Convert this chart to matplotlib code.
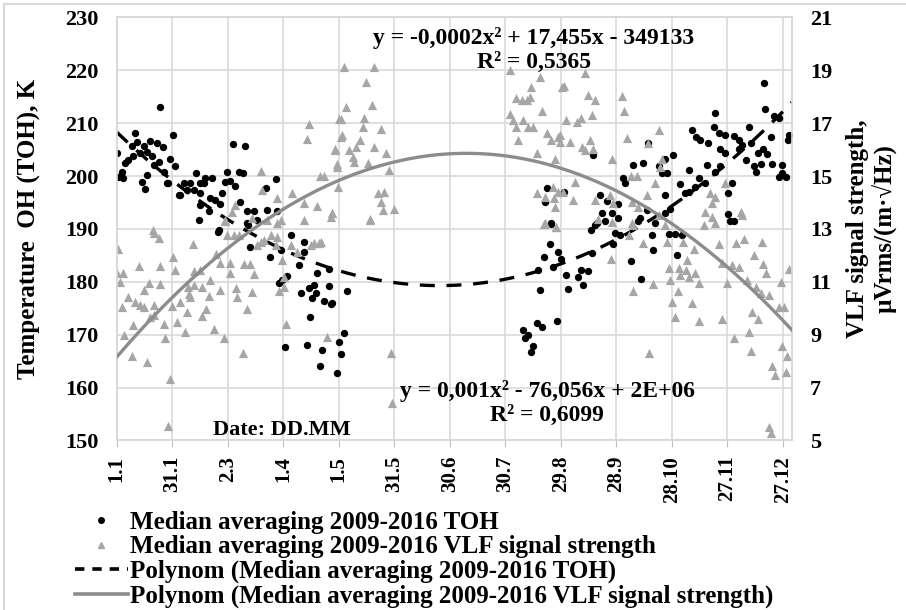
import numpy as np
import matplotlib.pyplot as plt
from matplotlib.lines import Line2D

# TOH medians, day of year -> K
toh_day = [1, 1.9, 3.7, 4.6, 5.5, 7.3, 9.1, 10, 10.9, 11.8, 13.7, 14.6, 15.5, 16.4, 17.3, 17.3,
           19.1, 20, 20.9, 22.7, 23.6, 24.5, 26, 26.3, 28.1, 29, 29.9, 31.7, 32.6, 34.5, 35.4,
           37.2, 39, 40.8, 42.6, 44, 45.3, 46.2, 46.2, 46.2, 48, 48.9, 50.7, 51.6, 52.5, 54.3,
           55.6, 56.2, 57.1, 58, 59.8, 60.7, 62.5, 63.9, 65.2, 67.2, 67.9, 69.4, 70.1, 71.5,
           71.5, 72.1, 73.3, 75.2, 76.9, 81.5, 82.4, 83.8, 86.9, 87.8, 88.7, 89.6, 90.5, 91.8,
           93.2, 95, 99.5, 100.5, 102.3, 102.3, 103.7, 105, 105.5, 106.8, 107.7, 108.6, 109.5,
           110.8, 111.7, 113.2, 115.8, 115.8, 116.8, 117.6, 120.3, 121.2, 122.1, 123.9, 125.7,
           220.7, 221.6, 223.4, 224.7, 226.1, 227.9, 228.8, 229.7, 231, 231.9, 232.4, 233.3,
           235.1, 236, 236, 237, 238.8, 239.7, 241.4, 242.9, 243.6, 244.7, 250.5, 251.9, 253.2,
           255.5, 257.3, 257.7, 258.6, 259.5, 260.4, 262.2, 263.1, 264.9, 265.8, 268.5, 269.5,
           270.4, 272.2, 272.2, 273.1, 274.9, 275.8, 278.9, 280.3, 283, 283.9, 284.5, 285.7,
           287.5, 288.4, 290.2, 290.6, 292.1, 293.9, 295.7, 297.1, 297.5, 297.5, 298.4, 299.3,
           300.2, 301.5, 302.9, 303.8, 305.6, 306.5, 308.3, 310.1, 310.5, 312, 313.8, 314.1,
           315.6, 316.5, 319.2, 320.1, 320.6, 323.7, 324.2, 324.6, 326.4, 327.3, 327.3, 329.7,
           330, 331.5, 331.5, 332.7, 333.6, 334.6, 334.6, 337.2, 337.3, 339.1, 340.9, 342.7,
           343.6, 345.4, 346.7, 347.8, 349, 350.3, 350.8, 351.2, 352.6, 354.4, 355.3, 356.3,
           359, 359, 360.4, 360.8, 362.6, 364, 364.4]
toh_val = [204.3, 199.9, 200.8, 199.6, 202.4, 203, 205.6, 203.7, 208.1, 206.5, 204.3, 198.9,
           205.6, 197.5, 204.6, 200.2, 206.6, 203.7, 202.1, 206.2, 202.7, 213.1, 205.4, 200.8,
           198.6, 198.6, 203.3, 207.8, 201.9, 196.4, 196.4, 198.7, 197.4, 198.6, 197.4, 200.5,
           191.6, 198.6, 196.7, 194.5, 198.6, 199.6, 193.3, 195.8, 199.6, 195.5, 189.5, 189.8,
           194.8, 196.7, 198.9, 200.8, 199.1, 206.1, 198.1, 200.8, 195, 200.6, 205.6, 193.3,
           191.1, 190.7, 186.6, 193.3, 191.7, 197.8, 193.5, 184.6, 199.4, 193.4, 179.7, 186,
           180.3, 167.6, 181.1, 188.8, 183.2, 177.9, 187.6, 185.7, 168.1, 178.8, 173.3, 176.9,
           179.4, 177.8, 181.6, 164.1, 167.1, 176.4, 182.4, 179.2, 175.8, 176, 162.8, 168.7,
           166.3, 170.4, 178.3,
           170.9, 169.3, 170, 166.8, 167.8, 172.2, 182.2, 178.4, 171.4, 184.6, 195, 197.7,
           187.1, 190.9, 191.1, 182.8, 172.5, 185.6, 184.4, 197, 181.3, 178.6, 180.9, 182.3,
           179.4, 182, 189.8, 185.4, 204, 190.8, 191.1, 196.4, 193, 191.4, 195.2, 193, 187.1,
           189.2, 192, 194.8, 188.8, 199.6, 198.7, 183.9, 202.1, 191.4, 192, 180.6, 202.4,
           193.6, 206.2, 188.8, 186, 191.1, 201.8, 200.5, 203.3, 196.4, 193.1, 200.5, 189,
           193.7, 204, 189.1, 185, 198.5, 188.8, 196.7, 197, 201.1, 208.7, 198, 207.4,
           199.6, 206.8, 198.6, 202.1, 206.3, 209.2, 211.9, 200.8, 208.1, 205.2, 201.8, 207.8,
           204.3, 196.7, 192.8, 191.4, 198.6, 207.6, 191.4, 205.2, 206.8, 205.9, 203, 209.3,
           206.2, 201.8, 200.8, 204.3, 202.3, 205.2, 217.5, 212.6, 204.2, 207.4, 202.3, 211.3,
           210.9, 199.9, 202.1, 200.5, 199.9, 206.8, 207.8]

# VLF signal strength medians, day of year -> uVrms/(m*sqrt(Hz))
vlf_day = [1, 1.9, 2.8, 3.7, 4.6, 5.2, 7.3, 9.1, 10, 10.9, 12.8, 13.7, 15.5, 15.5, 17.3, 18.2,
           19.1, 20.5, 20.9, 20.9, 20.9, 24.1, 24.5, 24.5, 26.3, 27.2, 29, 29.9, 30.8, 31.7,
           32.6, 33.5, 35.4, 38.1, 39, 39.6, 39.9, 40.8, 42.2, 42.6, 42.6, 46.2, 47.2, 47.2,
           49.2, 51, 51.6, 53.4, 54.9, 56.7, 57.1, 58.9, 59.8, 59.8, 60.7, 62.5, 62.5, 63.4,
           64.3, 65.2, 65.3, 66, 67, 69.4, 69.7, 71.2, 73.3, 74.3, 74.3, 75.2, 76.9, 78.8,
           78.8, 79.7, 80.6, 82.4, 84.2, 86.9, 87.8, 87.8, 87.8, 88.7, 89.6, 90.5, 91.5, 91.5,
           92.3, 95, 95.9, 98.6, 102.3, 102.3, 104.1, 105, 105.8, 107.7, 109.5, 110.4, 110.9,
           111.3, 113.1, 114.9, 116.7, 117.6, 117.6, 118.9, 118.9, 120, 120.3, 120.7, 121.3,
           122.1, 122.2, 123, 123.9, 124.8, 126.6, 128.5, 129.4, 130.3, 132.6, 133.9, 134.4,
           135.7, 136.6, 138, 138, 138.8, 139.8, 140.2, 142, 143.8, 143.8, 144.7, 145.6, 146.5,
           148.3, 149.2, 149.8, 150.7,
           213.4, 213.4, 215.3, 217, 217, 218, 219.8, 220.7, 222.5, 223.4, 224.3, 224.8, 226.1,
           227.9, 227.9, 229.7, 230.6, 232.1, 232.4, 232.4, 233.3, 236, 236.9, 237.5, 237.9,
           237.9, 238.2, 238.7, 239.6, 239.7, 240.5, 240.6, 241.5, 242.3, 242.9, 243.6, 245.9,
           247.8, 248.7, 249.6, 251.9, 252.3, 254.1, 254.1, 255.5, 256.8, 257.7, 258.6, 259.5,
           259.5, 261.3, 267.6, 268.2, 268.5, 268.5, 269.5, 274, 275.4, 276.7, 278, 279, 279.4,
           279.4, 280.3, 280.3, 282.1, 283, 285.7, 287.5, 288.4, 288.8, 290.6, 292.1, 293.9,
           293.9, 294.8, 295.7, 297.5, 298.4, 299.3, 300.2, 301.1, 302.5, 304.4, 304.7, 305.6,
           306.9, 308.7, 309.2, 310.1, 312, 312.9, 313.8, 315.6, 315.6, 318.3, 319.2, 321.9,
           322.8, 322.8, 324.2, 324.6, 326.4, 328.2, 328.2, 330, 331, 333.6, 334.6, 335.5,
           337.3, 338.2, 339.1, 340, 341.8, 342.7, 343.6, 344.5, 345.4, 346.7, 347.8, 349,
           349.9, 350.3, 351.7, 353.5, 353.5, 354.4, 355, 356.8, 359, 359.9, 360.4, 361.7,
           362.6, 363.5, 364.4]
vlf_val = [11.32, 12.23, 11, 10.03, 11.32, 9, 10.41, 8.2, 9.38, 10.22, 11.6, 10.13, 10.69,
           10.03, 7.98, 10.96, 9.68, 12.96, 12.86, 10.13, 9.75, 12.64, 11.6, 10.91, 9.4, 8.87,
           5.55, 7.32, 10.09, 11.95, 11.45, 9.47, 10.22, 9.09, 9.85, 10.81, 10.53, 10.43,
           12.43, 11.42, 10.88, 11.45, 10.81, 9.72, 9.97, 10.47, 11.06, 9.21, 12.04, 11.7,
           10.69, 8.87, 13.34, 13.28, 12.77, 11.72, 11.35, 13.65, 12.77, 13.9, 10.75, 10.41,
           12.77, 8.32, 11.66, 9.97, 11.66, 13.4, 10.62, 11.28, 12.39, 15.19, 12.52, 14.47,
           12.58, 13.34, 12.77, 12.39, 14.16, 12.71, 13.24, 10.67, 13.34, 11.82, 10.81, 11.19,
           9.42, 12.39, 14.35, 12.14, 13.97, 13.34, 16.39, 16.97, 12.39, 12.46, 13.87, 12.48,
           15, 12.52, 15, 8.9, 13.46, 13.59, 13.59, 15.98, 16.01, 15.35, 15.45, 14.6, 17.14,
           16.49, 17.14, 16.55, 19.13, 17.6, 15.98, 15.73, 15.54, 16.09, 16.36, 16.87, 17.18,
           18.57, 15.48, 13.36, 13.34, 17.69, 19.13, 16.09, 14.37, 16.77, 14.03, 13.72, 14.41,
           15.88, 15.23, 8.32, 6.43, 13.74,
           19.01, 17.35, 17.12, 17.94, 16.87, 16.36, 17.87, 17.12, 17.87, 16.87, 18, 18.35,
           16.87, 15.86, 14.37, 18.76, 17.47, 13.19, 14.22, 13.21, 16.61, 16.36, 14.6, 14.16,
           15.63, 13.84, 13.06, 13.06, 16.49, 14.41, 16.3, 16.55, 18.38, 14.41, 18.4, 17.12,
           16.3, 14.09, 14.79, 17.06, 17.18, 16.11, 18.88, 15.98, 18.06, 16.36, 17.31, 16.01,
           17.87, 14.09, 13.36, 14.28, 11.85, 15.63, 13.27, 13.97, 18.03, 17.47, 16.42, 12.77,
           15, 14.03, 13.21, 13.15, 10.66, 15, 13.84, 12.48, 14.28, 16.24, 8.3, 10.91, 14.75,
           16.74, 13.53, 15.35, 15.63, 13.15, 12.52, 11.51, 11.05, 10.25, 9.66, 10.66, 11.51,
           11.26, 12.52, 11.45, 11.82, 11.19, 10.19, 12.23, 11.32, 10.94, 9.52, 13.15, 13.65,
           14.37, 13.97, 13.46, 14.22, 13.21, 12.43, 11.7, 9.58, 14.75, 10.94, 11.64, 8.86,
           12.48, 11.57, 13.65, 13.53, 12.61, 11.07, 9.11, 8.39, 9.84, 12.01, 10.81, 9.58,
           10.59, 12.52, 11.67, 11.34, 10.5, 5.5, 5.3, 7.8, 7.46, 10.03, 11, 8.56, 10.03,
           7.59, 8.18, 11.47]

tick_days = [1, 31, 61, 91, 121, 151, 181, 211, 241, 271, 301, 331, 361]
tick_labels = ['1.1', '31.1', '2.3', '1.4', '1.5', '31.5', '30.6', '30.7', '29.8',
               '28.9', '28.10', '27.11', '27.12']

plt.rcParams['font.family'] = ['Liberation Serif', 'DejaVu Serif']
plt.rcParams['font.weight'] = 'bold'
grid_col = '#d9d9d9'

fig = plt.figure(figsize=(9.06, 6.10), dpi=100)
ax = fig.add_axes([0.1288, 0.2779, 0.7454, 0.6937])
ax2 = ax.twinx()

# Excel-style 2nd order polynomial trend lines
xs = np.linspace(1, 366, 300)
p_toh = np.polyfit(toh_day, toh_val, 2)
p_vlf = np.polyfit(vlf_day, vlf_val, 2)

ax.scatter(toh_day, toh_val, s=28, color='black', linewidths=0, zorder=3)
ax2.scatter(vlf_day, vlf_val, s=44, marker='^', color='#a6a6a6', linewidths=0, zorder=2)
ax.plot(xs, np.polyval(p_toh, xs), color='black', lw=2.4, dashes=(4.5, 3.5), zorder=4)
ax2.plot(xs, np.polyval(p_vlf, xs), color='#8c8c8c', lw=2.4, zorder=3)

ax.set_xlim(1, 366)
ax.set_ylim(150, 230)
ax2.set_ylim(5, 21)
ax.set_yticks(np.arange(150, 231, 10))
ax2.set_yticks(np.arange(5, 22, 2))
ax.set_xticks(tick_days)
ax.set_xticklabels(tick_labels, rotation=90, fontsize=15)
ax.grid(True, color=grid_col, lw=1.2)
ax.set_axisbelow(True)

for a in (ax, ax2):
    for sp in a.spines.values():
        sp.set_color(grid_col)
        sp.set_linewidth(1.2)
ax.tick_params(axis='y', length=0, pad=13, labelsize=16)
ax2.tick_params(axis='y', length=0, pad=13, labelsize=16)
ax.tick_params(axis='x', length=5, color='#bfbfbf', pad=6)

fig.text(0.032, 0.625, 'Temperature  OH (TOH), K', rotation=90, ha='center', va='center',
         fontsize=18)
fig.text(0.9625, 0.625, 'VLF signal strength,\nµVrms/(m·√Hz)', rotation=90, ha='center',
         va='center', fontsize=18, linespacing=1.15)

fig.text(282 / 906, 1 - 430 / 610, 'Date: DD.MM', ha='center', va='center', fontsize=16)
fig.text(534 / 906, 1 - 38 / 610, 'y = -0,0002x² + 17,455x - 349133', ha='center',
         va='center', fontsize=17)
fig.text(534 / 906, 1 - 62 / 610, 'R² = 0,5365', ha='center', va='center', fontsize=17)
fig.text(547 / 906, 1 - 391 / 610, 'y = 0,001x² - 76,056x + 2E+06', ha='center',
         va='center', fontsize=17)
fig.text(547 / 906, 1 - 415 / 610, 'R² = 0,6099', ha='center', va='center', fontsize=17)

handles = [
    Line2D([], [], ls='none', marker='o', ms=4, color='black'),
    Line2D([], [], ls='none', marker='^', ms=5, color='#a6a6a6'),
    Line2D([], [], color='black', lw=2.6, dashes=(2.6, 2.2)),
    Line2D([], [], color='#8c8c8c', lw=2.6),
]
labels = ['Median averaging 2009-2016 TOH',
          'Median averaging 2009-2016 VLF signal strength',
          'Polynom (Median averaging 2009-2016 TOH)',
          'Polynom (Median averaging 2009-2016 VLF signal strength)']
fig.legend(handles, labels, loc='upper left', bbox_to_anchor=(75 / 906, 1 - 511 / 610),
           frameon=False, fontsize=18, labelspacing=0.06, handlelength=2.1,
           handletextpad=0.12, borderpad=0, borderaxespad=0)

# light chart border (top and left visible in the original)
fig.add_artist(Line2D([4 / 906, 1], [1 - 4 / 610, 1 - 4 / 610], color=grid_col, lw=1.5))
fig.add_artist(Line2D([4 / 906, 4 / 906], [0, 1 - 4 / 610], color=grid_col, lw=1.5))

fig.savefig('out.png', dpi=100)
